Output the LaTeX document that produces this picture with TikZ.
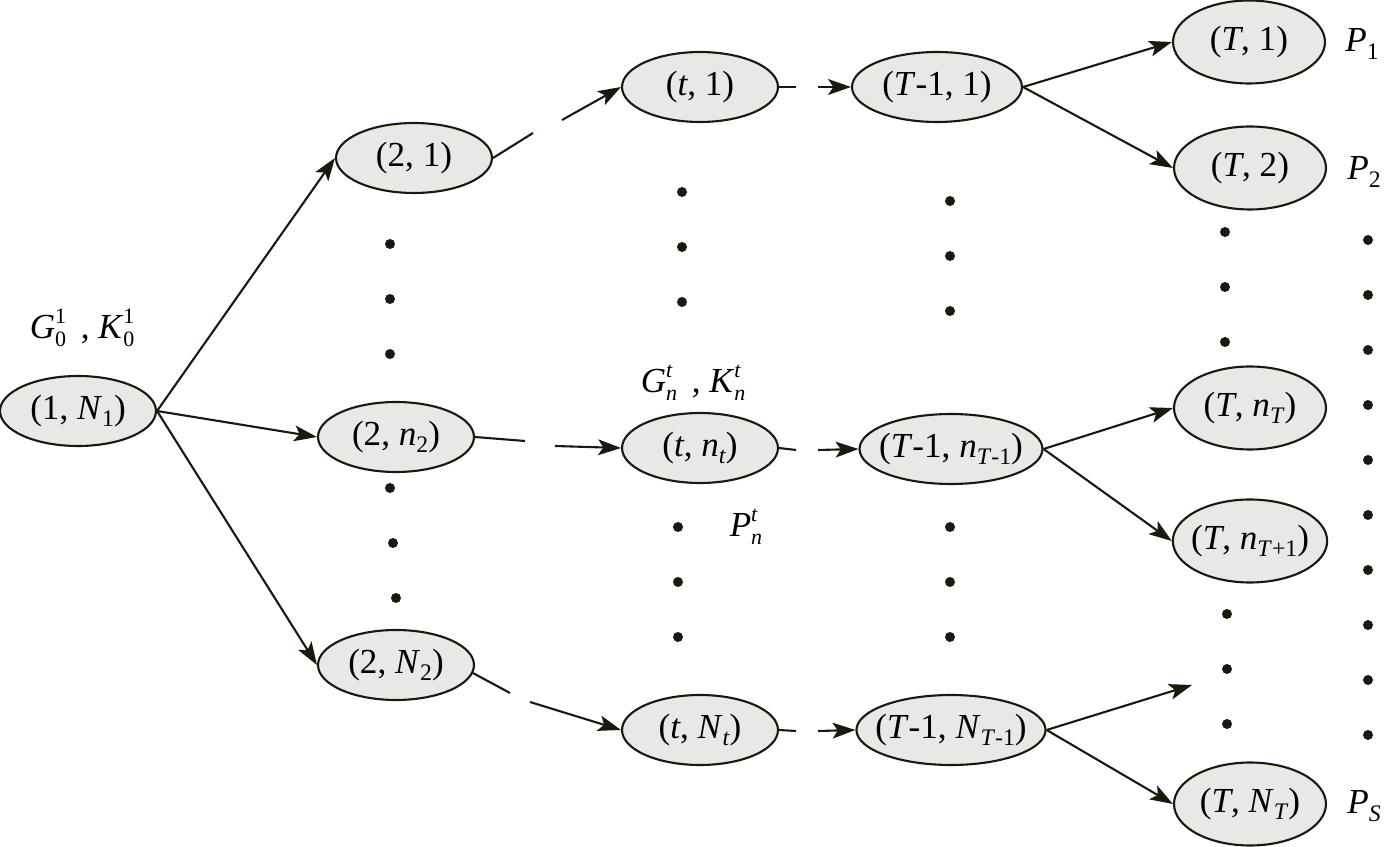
\documentclass[tikz,border=0pt]{standalone}
\usepackage{fontspec}
\setmainfont{Liberation Serif}
\usetikzlibrary{shapes.geometric,arrows.meta}
\newcommand{\sbx}[1]{\raisebox{-0.45ex}{\fontsize{13.5}{13.5}\selectfont #1}}
\newcommand{\ssc}[2]{\rlap{\raisebox{0.95ex}{\fontsize{12.5}{12.5}\selectfont #1}}\raisebox{-0.5ex}{\fontsize{12.5}{12.5}\selectfont #2}}
\newcommand{\ii}[1]{\textit{#1}}
\definecolor{ink}{RGB}{25,25,15}
\definecolor{nodefill}{RGB}{232,232,230}
\tikzset{
  st/.style={ellipse, draw=ink, fill=nodefill, line width=1.2pt, inner sep=0pt,
    minimum width=3.12cm, minimum height=1.4cm, font=\fontsize{20}{23}\selectfont},
  wide/.style={minimum width=3.4cm},
  wider/.style={minimum width=3.66cm, inner xsep=-5pt},
  leaf/.style={minimum width=3.04cm, minimum height=1.66cm},
  tight/.style={inner xsep=-2.5pt},
  lab/.style={font=\fontsize{20}{23}\selectfont, inner sep=0pt},
  ln/.style={draw=ink, line width=1.2pt},
  arr/.style={ln, -{Stealth[length=13pt,width=9pt,inset=3pt]}},
  dot/.style={fill=ink}
}
\begin{document}
\begin{tikzpicture}[x=0.02cm,y=-0.02cm]
\path[use as bounding box] (0,0) rectangle (1390,847);
% nodes
\node[st] (n1) at (78,411) {(1, \ii{N}\sbx{1})};
\node[st] (n21) at (414,158) {(2, 1)};
\node[st] (n2n) at (396,437) {(2, \ii{n}\sbx{2})};
\node[st] (n2N) at (396,665) {(2, \ii{N}\sbx{2})};
\node[st] (t1) at (700,87) {(\ii{t}, 1)};
\node[st] (tn) at (700,448) {(\ii{t}, \ii{n}\sbx{\ii{t}})};
\node[st] (tN) at (700,730) {(\ii{t}, \ii{N}\sbx{\ii{t}})};
\node[st,wide] (m1) at (937,87) {(\ii{T}-1, 1)};
\node[st,wider] (mn) at (951,449) {(\ii{T}-1, \ii{n}\sbx{\ii{T}-1})};
\node[st,wider] (mN) at (951,730) {(\ii{T}-1, \ii{N}\sbx{\ii{T}-1})};
\node[st,leaf] (T1) at (1249,42) {(\ii{T}, 1)};
\node[st,leaf] (T2) at (1250,168) {(\ii{T}, 2)};
\node[st,leaf] (Tn) at (1250,408) {(\ii{T}, \ii{n}\sbx{\ii{T}})};
\node[st,leaf,tight] (Tn1) at (1250,541) {(\ii{T}, \ii{n}\sbx{\ii{T}+1})};
\node[st,leaf] (TN) at (1250,804) {(\ii{T}, \ii{N}\sbx{\ii{T}})};
% labels
\node[lab] (g0) at (82,328) {\ii{G}\ssc{1}{0}\ \,, \ii{K}\ssc{1}{0}};
\node[lab] (gn) at (693,383) {\ii{G}\ssc{\ii{t}}{\ii{n}}\ \,, \ii{K}\ssc{\ii{t}}{\ii{n}}};
\node[lab] (pn) at (746,527) {\ii{P}\ssc{\ii{t}}{\ii{n}}};
\node[lab] (p1) at (1362,44) {\ii{P}\sbx{1}};
\node[lab] (p2) at (1364,172) {\ii{P}\sbx{2}};
\node[lab] (ps) at (1364,806) {\ii{P}\sbx{\ii{S}}};
% coordinates of broken connectors
\coordinate (a1) at (533,133); \coordinate (b1) at (562,120);
\coordinate (a2) at (525,441); \coordinate (b2) at (555,446);
\coordinate (a3) at (510,693); \coordinate (b3) at (530,702);
\coordinate (c1) at (796,87);  \coordinate (d1) at (818,87);
\coordinate (c2) at (796,450); \coordinate (d2) at (818,450);
\coordinate (c3) at (796,731); \coordinate (d3) at (818,731);
\coordinate (free) at (1192,685);
% connectors
\draw[arr] (n1.east) -- (n21.west);
\draw[arr] (n1.east) -- (n2n.west);
\draw[arr] (n1.east) -- (n2N.west);
\draw[ln] (n21.east) -- (a1); \draw[arr] (b1) -- (t1.west);
\draw[ln] (n2n.east) -- (a2); \draw[arr] (b2) -- (tn.west);
\draw[ln] (n2N.-6) -- (a3); \draw[arr] (b3) -- (tN.west);
\draw[ln] (t1.east) -- (c1); \draw[arr] (d1) -- (m1.west);
\draw[ln] (tn.east) -- (c2); \draw[arr] (d2) -- (mn.west);
\draw[ln] (tN.east) -- (c3); \draw[arr] (d3) -- (mN.west);
\draw[arr] (m1.east) -- (T1.west);
\draw[arr] (m1.east) -- (T2.west);
\draw[arr] (mn.east) -- (Tn.west);
\draw[arr] (mn.east) -- (Tn1.west);
\draw[arr] (mN.east) -- (free);
\draw[arr] (mN.east) -- (TN.west);
% dots
\foreach \x/\y in {390/244,390/299,390/354,390/488,393/543,396/598,
  682/192,682/247,682/302,678/527,678/582,678/637,
  950/201,950/256,950/311,950/527,950/582,950/637,
  1225/232,1225/287,1225/342,1227/614,1227/669,1227/724}
  \fill[dot] (\x,\y) circle (0.1cm);
\foreach \y in {240,295,350,405,460,515,570,625,680,735}
  \fill[dot] (1368,\y) circle (0.1cm);
\end{tikzpicture}
\end{document}
